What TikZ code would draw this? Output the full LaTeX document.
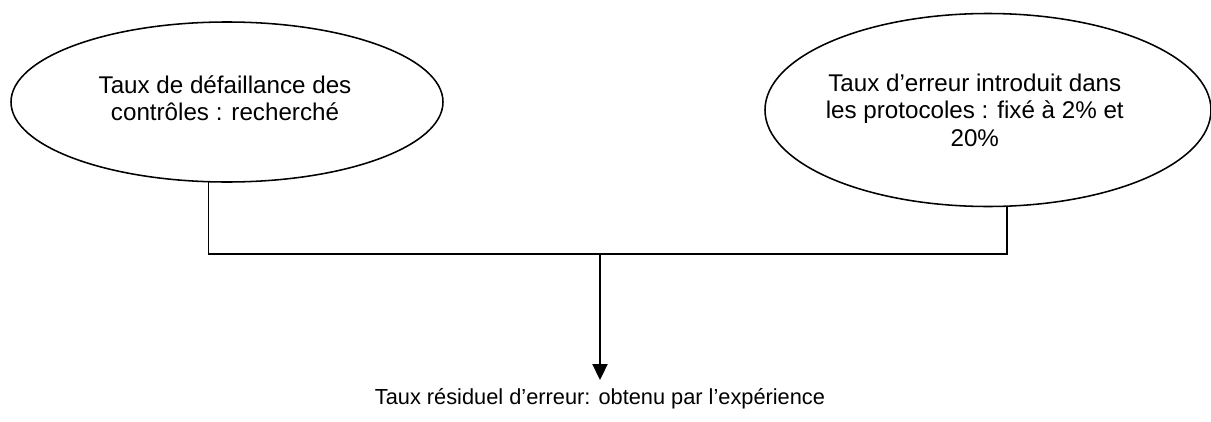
\documentclass[tikz,border=0pt]{standalone}
\usepackage{fontspec}
\setmainfont{Liberation Sans}
\usetikzlibrary{arrows.meta}
\usetikzlibrary{shapes.geometric}
\usetikzlibrary{positioning}

\tikzset{
  bulle/.style={draw, ellipse, line width=1.1pt, inner sep=0pt},
  texte/.style={align=center, font=\fontsize{17.2}{19.5}\selectfont},
  lien/.style={line width=1.1pt},
}

\begin{document}
\begin{tikzpicture}[font=\fontsize{15.5}{18.5}\selectfont]
    \useasboundingbox (0,0) rectangle (30.275,10.525);

    % the two inputs
    \node[bulle, minimum width=10.8cm, minimum height=4cm] (defaillance) at (5.675,7.975) {};
    \node[texte] (defaillancetxt) at ([xshift=-0.05cm, yshift=0.1cm]defaillance.center) {Taux de défaillance des\\contrôles : recherché};
    \node[bulle, minimum width=11.15cm, minimum height=4.825cm] (erreur) at (24.7,7.775) {};
    \node[texte] (erreurtxt) at ([xshift=-0.33cm]erreur.center) {Taux d’erreur introduit dans\\les protocoles : fixé à 2\% et\\20\%};

    % the result
    \coordinate (jonction) at (15,4.175);
    \node[inner sep=6pt] (residuel) at (15,0.55) {Taux résiduel d’erreur: obtenu par l’expérience};

    \draw[lien] (defaillance.257) |- (jonction);
    \draw[lien] (erreur.281) |- (jonction);
    \draw[lien, -{Triangle[width=0.38cm, length=0.4cm]}] (jonction) -- (residuel.north);
\end{tikzpicture}
\end{document}
